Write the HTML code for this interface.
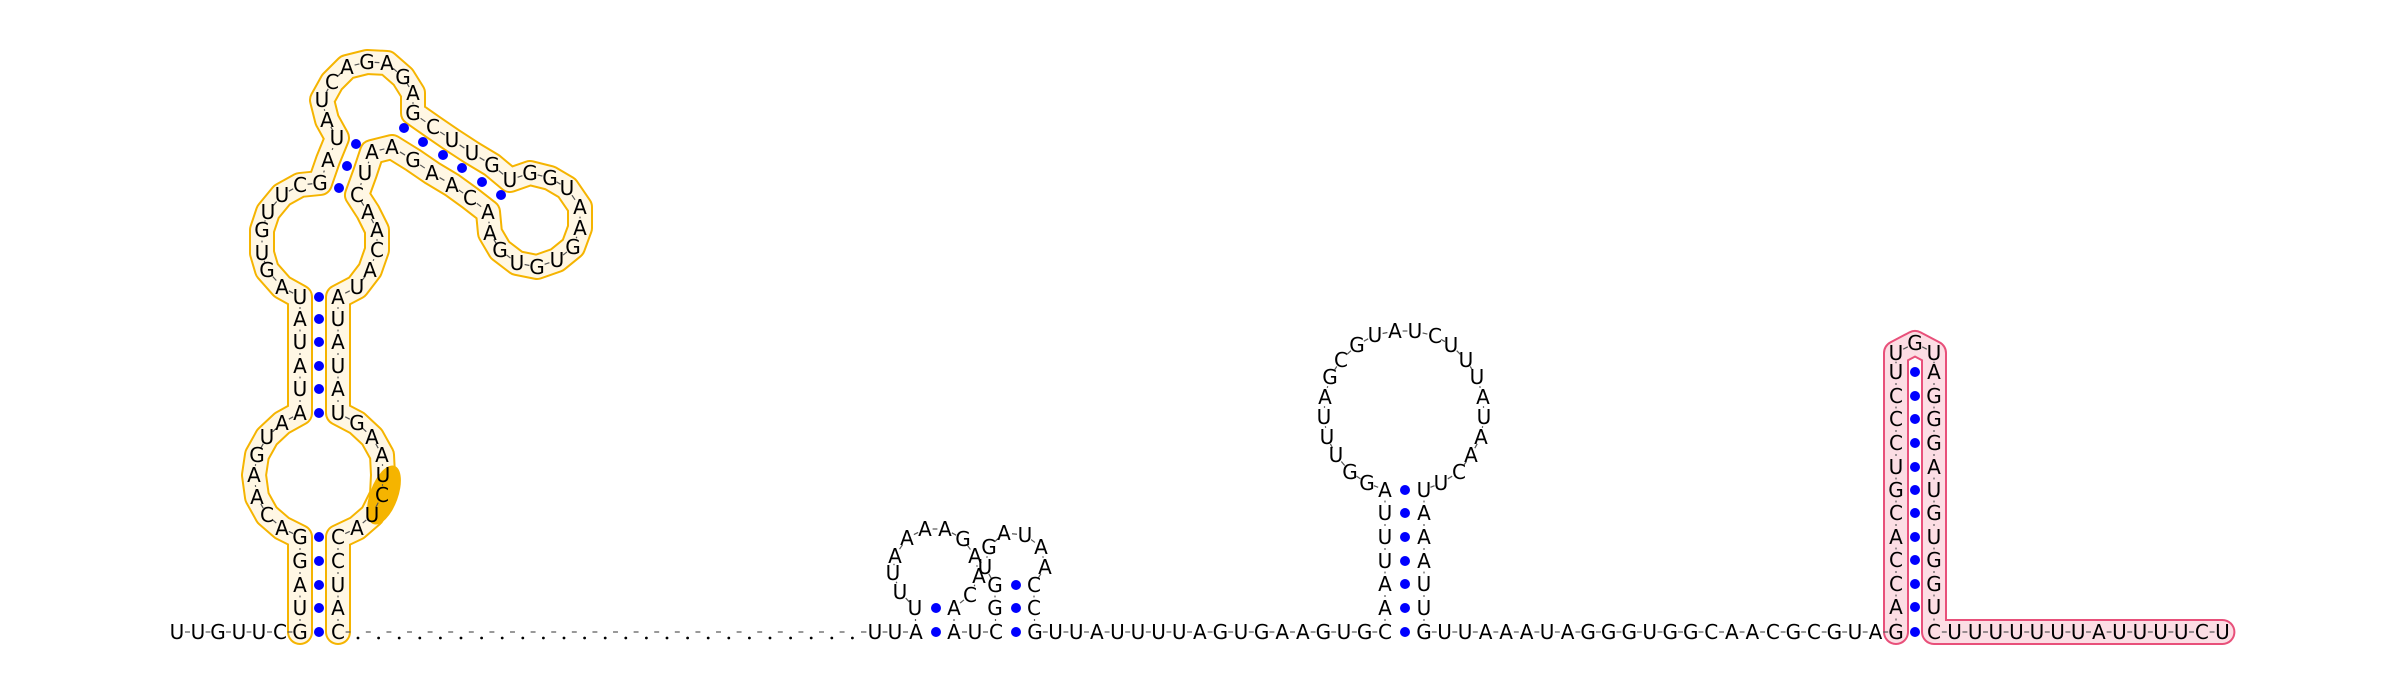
<!DOCTYPE html>
<html><head><meta charset="utf-8"><title>RNA secondary structure</title>
<style>
html,body{margin:0;padding:0;background:#fff;}
svg{display:block;}
text{font-family:"DejaVu Sans","Liberation Sans",sans-serif;font-size:20px;fill:#000;}
</style></head>
<body>
<svg id="chart" width="2400" height="690" viewBox="0 0 2400 690" xmlns="http://www.w3.org/2000/svg">
<g id="tubes"></g>
<g id="backbone"></g>
<g id="pairs"></g>
<g id="letters"></g>
</svg>
<script>
// 5' tail
const tail5 = [["U",177,632],["U",198,632],["G",218,632],["U",239,632],["U",259,632],["C",280,632]];
// yellow hairpin structure
const yellowSeq = [
["G",300,632],["U",300,608],["A",300,585],["G",300,561],["G",300,537],
["A",282,528],["C",267,515],["A",257,497],["A",254,475],["G",257,455],["U",267,437],["A",282,423],
["A",300,413],["U",300,389],["A",300,366],["U",300,342],["A",300,319],["U",300,297],
["A",282,287],["G",267,270],["U",262,253],["G",262,230],["U",268,212],["U",282,195],["C",300,185],["G",320,183],
["A",328,160],["U",337,138],
["A",327,120],["U",322,100],["C",332,82],["A",347,67],["G",367,62],["A",387,63],["G",403,77],["A",413,93],
["G",413,113],["C",433,127],["U",452,140],["U",472,153],["G",492,165],["U",510,180],
["G",530,173],["G",550,178],["U",567,188],["A",580,207],["A",580,228],["G",573,247],["U",557,260],["G",537,267],["U",517,263],["G",500,250],["A",490,233],
["A",488,212],["C",470,198],["A",452,185],["A",432,173],["G",413,160],["A",392,147],
["A",372,152],["U",365,173],["C",357,195],
["A",368,212],["A",377,230],["C",377,250],["A",370,270],["U",357,287],
["A",338,297],["U",338,319],["A",338,342],["U",338,366],["A",338,389],["U",338,413],
["G",357,423],["A",372,437],["A",382,455],["U",383,475],["C",382,495],["U",372,515],["A",357,528],
["C",338,537],["C",338,561],["U",338,585],["A",338,608],["C",338,632]
];
const gapCount = 25;
const midSeq = [
["U",875,632],["U",895,632],["A",916,632],["U",915,608],
["U",900,592],["U",893,573],["A",895,556],["A",907,538],["A",925,529],["A",945,529],["G",963,539],["A",975,556],["A",979,576],["C",970,595],
["A",954,608],["A",954,632],["U",975,632],["C",996,632],["G",995,608],["G",995,585],
["U",985,567],["G",989,547],["A",1004,533],["U",1025,535],["A",1041,547],["A",1045,567],
["C",1034,585],["C",1034,608],["G",1035,632]
];
const base1 = "UUAUUUUAGUGAAGUG".split("");
const bigStemL = [["C",1385,632],["A",1385,608],["A",1385,584],["U",1385,561],["U",1385,537],["U",1385,513],["A",1385,490]];
const bigLoop = [["G",1367,483],["G",1350,472],["U",1336,455],["U",1327,437],["U",1324,417],["A",1325,397],["G",1330,377],["C",1341,360],["G",1357,345],["U",1375,335],["A",1395,331],["U",1415,331],["C",1435,336],["U",1451,345],["U",1466,360],["U",1477,377],["A",1483,397],["U",1484,417],["A",1481,437],["A",1471,455],["C",1459,472],["U",1441,483]];
const bigStemR = [["U",1424,490],["A",1424,513],["A",1424,537],["A",1424,561],["U",1424,584],["U",1424,608],["G",1424,632]];
const base2 = "UUAAAUAGGGUGGCAACGCGUA".split("");
const pinkL = "GACCACGUCCCU".split("");   // bottom to top
const pinkTop = [["U",1896,353],["G",1915,343],["U",1934,353]];
const pinkR = "AGGGAUGUGGUC".split("");   // top to bottom
const tail3 = "UUUUUUUAUUUUCU".split("");
const rowsPink = [372,396,419,443,467,490,513,537,560,584,607,632];

const NS="http://www.w3.org/2000/svg";
function mk(tag, attrs, parent){const e=document.createElementNS(NS,tag);for(const k in attrs)e.setAttribute(k,attrs[k]);parent.appendChild(e);return e;}

let seq=[];
tail5.forEach(n=>seq.push(n));
const yStart=seq.length; yellowSeq.forEach(n=>seq.push(n)); const yEnd=seq.length-1;
for(let i=0;i<gapCount;i++) seq.push([".",358+i*20.6,632]);
midSeq.forEach(n=>seq.push(n));
base1.forEach((c,i)=>seq.push([c,1035+(i+1)*20.6,632]));
bigStemL.forEach(n=>seq.push(n)); bigLoop.forEach(n=>seq.push(n)); bigStemR.forEach(n=>seq.push(n));
base2.forEach((c,i)=>seq.push([c,1424+(i+1)*20.52,632]));
const pStart=seq.length;
pinkL.forEach((c,i)=>seq.push([c,1896,rowsPink[rowsPink.length-1-i]]));
pinkTop.forEach(n=>seq.push(n));
pinkR.forEach((c,i)=>seq.push([c,1934,rowsPink[i]]));
tail3.forEach((c,i)=>seq.push([c,1934+(i+1)*20.6,632]));
const pEnd=seq.length-1;

const tubes=document.getElementById("tubes");
function tube(a,b,outer,inner,name){
  let d="";for(let i=a;i<=b;i++)d+=(i===a?"M":"L")+seq[i][1]+" "+seq[i][2]+" ";
  const o=mk("path",{d:d,fill:"none",stroke:outer,"stroke-width":26,"stroke-linejoin":"round","stroke-linecap":"round"},tubes);
  
  
  const n=mk("path",{d:d,fill:"none",stroke:inner,"stroke-width":22,"stroke-linejoin":"round","stroke-linecap":"round"},tubes);
  
  
}
tube(yStart,yEnd,"#f5b400","#fff7e4","yellow-region");
tube(pStart,pEnd,"#e8507a","#fcdde4","pink-region");
const blob=mk("ellipse",{cx:384,cy:495,rx:14,ry:31,fill:"#f5b400",transform:"rotate(20 384 495)"},tubes);



const bb=document.getElementById("backbone");
for(let i=0;i<seq.length-1;i++){
  const p=seq[i],q=seq[i+1];
  const dx=q[1]-p[1],dy=q[2]-p[2];
  const vertical=Math.abs(dy)>Math.abs(dx)*2;
  const a=vertical?0.46:0.38, b=vertical?0.54:0.62;
  const l=mk("line",{x1:p[1]+dx*a,y1:p[2]+dy*a,x2:p[1]+dx*b,y2:p[2]+dy*b,stroke:"#555","stroke-width":1.2},bb);
  
  
}

const pairDots=[];
[632,608,585,561,537,413,389,366,342,319,297].forEach(y=>pairDots.push([319,y]));
[[339,188],[347,166],[356,144],[404,128],[423,142],[443,155],[462,168],[482,182],[501,195]].forEach(d=>pairDots.push(d));
[[936,632],[936,608],[1016,632],[1016,608],[1016,585]].forEach(d=>pairDots.push(d));
[632,608,584,561,537,513,490].forEach(y=>pairDots.push([1405,y]));
rowsPink.forEach(y=>pairDots.push([1915,y]));
const pg=document.getElementById("pairs");
pairDots.forEach(d=>{
  const c=mk("circle",{cx:d[0],cy:d[1],r:5,fill:"#0000ff"},pg);
  
  
});

const lg=document.getElementById("letters");
seq.forEach(n=>{
  if(n[0]==="."){
    const c=mk("circle",{cx:n[1],cy:n[2]+6,r:1.4,fill:"#000"},lg);
    
    
  } else {
    const t=mk("text",{x:n[1],y:n[2]+7,"text-anchor":"middle"},lg);
    t.textContent=n[0];
    
    
  }
});
</script>
</body></html>
